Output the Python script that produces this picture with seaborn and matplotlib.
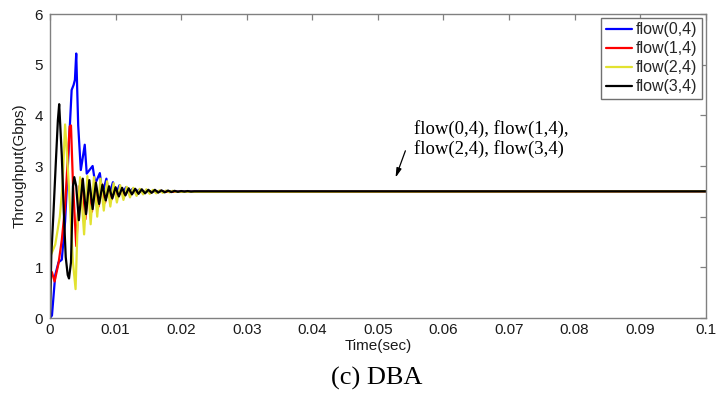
import numpy as np
import pandas as pd
import matplotlib
matplotlib.use("Agg")
import matplotlib.pyplot as plt
import seaborn as sns

# ---- data ----
flows = ["flow(0,4)", "flow(1,4)", "flow(2,4)", "flow(3,4)"]
colors = ["#0000ff", "#ff0000", "#e2e230", "#000000"]

t_blue = [0.0, 0.0003, 0.0008, 0.0013, 0.0018, 0.0023, 0.0028, 0.0033, 0.0036, 0.0038,
          0.0040, 0.0043, 0.0047, 0.0053, 0.0056, 0.0065, 0.0069, 0.0076, 0.0080, 0.0086,
          0.0090, 0.0096, 0.0100, 0.0106, 0.0110, 0.0116, 0.0120, 0.0126, 0.0130, 0.0136,
          0.0140, 0.0150, 0.1]
v_blue = [0.0, 0.05, 0.85, 1.1, 1.15, 1.9, 3.2, 4.5, 4.6, 4.7,
          5.22, 3.8, 2.92, 3.42, 2.85, 3.0, 2.65, 2.86, 2.45, 2.75,
          2.42, 2.68, 2.44, 2.62, 2.45, 2.58, 2.47, 2.55, 2.48, 2.53,
          2.49, 2.5, 2.5]

t_red = [0.0, 0.0003, 0.0007, 0.0010, 0.0013, 0.0018, 0.0023, 0.0027, 0.0030, 0.0032,
         0.0035, 0.0040, 0.0045, 0.0049, 0.0054, 0.0059, 0.0064, 0.0069, 0.0074, 0.0079,
         0.0084, 0.0089, 0.0094, 0.0099, 0.0104, 0.0109, 0.0114, 0.0119, 0.0124, 0.0129,
         0.0134, 0.0139, 0.0144, 0.0149, 0.0154, 0.0159, 0.0164, 0.0169, 0.0174, 0.1]
v_red = [0.95, 0.9, 0.72, 0.9, 1.08, 1.54, 2.2, 3.12, 3.78, 3.8,
         2.66, 1.42, 2.6, 2.72, 1.95, 2.72, 2.1, 2.68, 2.2, 2.64,
         2.28, 2.6, 2.34, 2.58, 2.39, 2.56, 2.42, 2.55, 2.44, 2.54,
         2.46, 2.53, 2.47, 2.52, 2.48, 2.515, 2.485, 2.51, 2.49, 2.5]

t_yellow = [0.0, 0.0008, 0.0015, 0.0019, 0.0023, 0.0027, 0.0031, 0.0035, 0.0039, 0.0043,
            0.0046, 0.0052, 0.0057, 0.0062, 0.0067, 0.0072, 0.0077, 0.0082, 0.0087, 0.0092,
            0.0097, 0.0102, 0.0107, 0.0112, 0.0117, 0.0122, 0.0127, 0.0132, 0.0137, 0.0142,
            0.0147, 0.0152, 0.0157, 0.0162, 0.0167, 0.0172, 0.0177, 0.0182, 0.0187, 0.0192,
            0.1]
v_yellow = [1.2, 1.45, 2.0, 2.6, 3.82, 3.0, 2.1, 1.1, 0.57, 2.2,
            2.78, 1.65, 2.8, 1.85, 2.78, 2.0, 2.75, 2.12, 2.7, 2.2,
            2.66, 2.28, 2.62, 2.33, 2.59, 2.38, 2.57, 2.41, 2.55, 2.44,
            2.54, 2.45, 2.53, 2.46, 2.52, 2.47, 2.515, 2.48, 2.51, 2.49,
            2.5]

t_black = [0.0, 0.0002, 0.0005, 0.0009, 0.0012, 0.0014, 0.0018, 0.0021, 0.0024, 0.0027,
           0.0029, 0.0032, 0.0035, 0.0037, 0.0040, 0.0044, 0.0050, 0.0055, 0.0060, 0.0065,
           0.0070, 0.0075, 0.0080, 0.0085, 0.0090, 0.0095, 0.0100, 0.0105, 0.0110, 0.0115,
           0.0120, 0.0125, 0.0130, 0.0135, 0.0140, 0.0145, 0.0150, 0.0155, 0.0160, 0.0165,
           0.0170, 0.0175, 0.0180, 0.0185, 0.0190, 0.0195, 0.0200, 0.0205, 0.0210, 0.0215,
           0.0220, 0.0225, 0.1]
v_black = [0.0, 1.25, 2.0, 3.1, 3.9, 4.22, 3.2, 2.1, 1.2, 0.85,
           0.78, 1.1, 2.6, 2.78, 2.6, 1.93, 2.75, 2.05, 2.72, 2.15,
           2.67, 2.25, 2.63, 2.32, 2.6, 2.36, 2.58, 2.4, 2.57, 2.42,
           2.56, 2.44, 2.55, 2.45, 2.54, 2.46, 2.53, 2.47, 2.53, 2.475,
           2.52, 2.48, 2.515, 2.485, 2.51, 2.49, 2.505, 2.495, 2.505, 2.495,
           2.5, 2.5, 2.5]

x_ticks = [0, 0.01, 0.02, 0.03, 0.04, 0.05, 0.06, 0.07, 0.08, 0.09, 0.1]
x_ticklabels = ["0", "0.01", "0.02", "0.03", "0.04", "0.05", "0.06", "0.07", "0.08", "0.09", "0.1"]
y_ticks = [0, 1, 2, 3, 4, 5, 6]

series_t = [t_blue, t_red, t_yellow, t_black]
series_v = [v_blue, v_red, v_yellow, v_black]

frames = []
for name, tt, vv in zip(flows, series_t, series_v):
    frames.append(pd.DataFrame({"t": tt, "v": vv, "flow": name}))
df = pd.concat(frames, ignore_index=True)

# ---- style ----
sns.set_style("white")
plt.rcParams["font.family"] = ["Liberation Sans", "DejaVu Sans"]

fig = plt.figure(figsize=(7.19, 3.96), dpi=100)
ax = fig.add_axes([50 / 719, 1 - 318 / 396, 655.7 / 719, 304 / 396])

sns.lineplot(data=df, x="t", y="v", hue="flow", hue_order=flows,
             palette=dict(zip(flows, colors)), estimator=None, sort=False,
             linewidth=1.6, ax=ax)

ax.set_xlim(0, 0.1)
ax.set_ylim(0, 6)
ax.set_xticks(x_ticks)
ax.set_xticklabels(x_ticklabels)
ax.set_yticks(y_ticks)

spine_c = "#808080"
for s in ax.spines.values():
    s.set_visible(True)
    s.set_color(spine_c)
    s.set_linewidth(1.0)
ax.tick_params(axis="both", which="both", direction="in", length=4, width=0.9,
               color=spine_c, top=True, right=True, labelsize=11, labelcolor="#1a1a1a")
ax.tick_params(axis="x", pad=3.5)
ax.tick_params(axis="y", pad=5)

ax.set_xlabel("Time(sec)", fontsize=11, color="#1a1a1a")
ax.set_ylabel("Throughput(Gbps)", fontsize=11, color="#1a1a1a")
ax.xaxis.set_label_coords(0.5, -0.068)
ax.yaxis.set_label_coords(-0.036, 0.5)

handles, labels = ax.get_legend_handles_labels()
leg = ax.legend(handles, labels, loc="upper right", bbox_to_anchor=(0.995, 0.988),
                fontsize=11.5, frameon=True, fancybox=False, framealpha=1,
                edgecolor="#707070", handlelength=1.65, handletextpad=0.25,
                labelspacing=0.25, borderpad=0.3, borderaxespad=0.0)
leg.get_frame().set_linewidth(1.0)
for h in leg.get_lines():
    h.set_linewidth(1.6)

# annotation
ax.text(0.0555, 3.53, "flow(0,4), flow(1,4),\nflow(2,4), flow(3,4)",
        family=["Liberation Serif", "DejaVu Serif"], fontsize=13.5,
        ha="left", va="center", color="black", linespacing=1.2)
ax.annotate("", xy=(0.0527, 2.77), xytext=(0.0542, 3.30),
            arrowprops=dict(arrowstyle="-|>,head_width=0.15,head_length=0.55",
                            color="black", lw=0.9, shrinkA=0, shrinkB=0))

fig.text(377 / 719, 1 - 378 / 396, "(c) DBA", family=["Liberation Serif", "DejaVu Serif"],
         fontsize=19, ha="center", va="center", color="black")

fig.savefig("out.png", dpi=100, facecolor="white")
